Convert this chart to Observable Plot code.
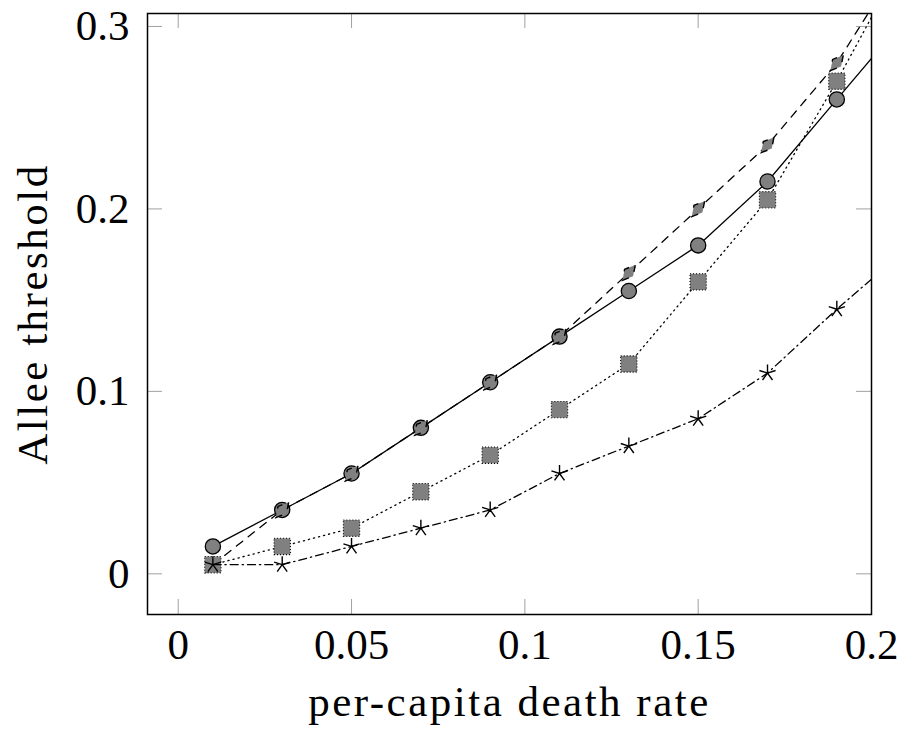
<!DOCTYPE html>
<html>
<head>
<meta charset="utf-8">
<script src="https://cdn.jsdelivr.net/npm/d3@7"></script>
<script src="https://cdn.jsdelivr.net/npm/@observablehq/plot@0.6"></script>
<style>
  html, body { margin: 0; padding: 0; background: #fff; }
  g.axis-title text { letter-spacing: 2.5px; }
</style>
</head>
<body>
<div id="chart"></div>
<script>
// ---- data ----
const deathRate = [0.01, 0.03, 0.05, 0.07, 0.09, 0.11, 0.13, 0.15, 0.17, 0.19, 0.21];
const solidCircles = [0.015, 0.035, 0.055, 0.08, 0.105, 0.13, 0.155, 0.18, 0.215, 0.26, 0.305];
const dashedDiamonds = [0.005, 0.035, 0.055, 0.08, 0.105, 0.13, 0.165, 0.2, 0.235, 0.28, 0.34];
const dottedSquares = [0.005, 0.015, 0.025, 0.045, 0.065, 0.09, 0.115, 0.16, 0.205, 0.27, 0.34];
const dashdotStars = [0.005, 0.005, 0.015, 0.025, 0.035, 0.055, 0.07, 0.085, 0.11, 0.145, 0.178];

const xTicks = [0, 0.05, 0.1, 0.15, 0.2];
const yTicks = [0, 0.1, 0.2, 0.3];
const xLabel = "per-capita death rate";
const yLabel = "Allee threshold";

// ---- layout ----
const W = 904, H = 729;
const mL = 147, mR = 33, mT = 13, mB = 115;
const plotW = W - mL - mR, plotH = H - mT - mB;
const TL = 15;
const FONT = "'Liberation Serif', 'Times New Roman', serif";

const toRows = (vals) => deathRate.map((x, i) => ({x, y: vals[i]}));
const circles = toRows(solidCircles);
const diamonds = toRows(dashedDiamonds);
const squares = toRows(dottedSquares);
const stars = toRows(dashdotStars);

// custom symbols
const star5 = {
  draw(ctx, size) {
    const r = Math.sqrt(size / Math.PI);
    for (let i = 0; i < 5; i++) {
      const a = -Math.PI / 2 + i * 2 * Math.PI / 5;
      ctx.moveTo(0, 0);
      ctx.lineTo(r * Math.cos(a), r * Math.sin(a));
    }
  }
};
const rhomb = {
  draw(ctx, size) {
    const r = Math.sqrt(size / Math.PI);
    ctx.moveTo(0, -r);
    ctx.lineTo(r * 0.55, 0);
    ctx.lineTo(0, r);
    ctx.lineTo(-r * 0.55, 0);
    ctx.closePath();
  }
};

const GRAY = "#808080";
const TICK = "#a0a0a0";

const chart = Plot.plot({
  width: W,
  height: H,
  marginLeft: mL, marginRight: mR, marginTop: mT, marginBottom: mB,
  style: {fontFamily: FONT, fontSize: "43px", background: "#fff", color: "#000"},
  x: {domain: [-0.00886, 0.2]},
  y: {domain: [-0.0223, 0.3071]},
  marks: [
    // inner ticks
    Plot.tickX(xTicks, {x: d => d, stroke: TICK, strokeWidth: 1, insetTop: plotH - TL}),
    Plot.tickX(xTicks, {x: d => d, stroke: TICK, strokeWidth: 1, insetBottom: plotH - TL}),
    Plot.tickY(yTicks, {y: d => d, stroke: TICK, strokeWidth: 1, insetRight: plotW - TL}),
    Plot.tickY(yTicks, {y: d => d, stroke: TICK, strokeWidth: 1, insetLeft: plotW - TL}),

    // solid / circles
    Plot.line(circles, {x: "x", y: "y", stroke: "black", strokeWidth: 1.3, clip: true}),
    Plot.dot(circles, {x: "x", y: "y", r: 7.6, fill: GRAY, stroke: "black", strokeWidth: 1.3, clip: true}),

    // dashed / diamonds
    Plot.line(diamonds, {x: "x", y: "y", stroke: "black", strokeWidth: 1.3, strokeDasharray: "8,7", clip: true}),
    Plot.dot(diamonds, {x: "x", y: "y", symbol: rhomb, r: 10, rotate: 40, fill: GRAY, stroke: "black", strokeWidth: 1.4, strokeDasharray: "7,9", clip: true}),

    // dotted / squares
    Plot.line(squares, {x: "x", y: "y", stroke: "black", strokeWidth: 1.3, strokeDasharray: "1.2,4", strokeLinecap: "round", clip: true}),
    Plot.dot(squares, {x: "x", y: "y", symbol: "square", r: 9.2, fill: GRAY, stroke: "black", strokeWidth: 1.1, strokeDasharray: "1,2", clip: true}),

    // dash-dot / stars
    Plot.line(stars, {x: "x", y: "y", stroke: "black", strokeWidth: 1.3, strokeDasharray: "8,4,1.3,4", clip: true}),
    Plot.dot(stars, {x: "x", y: "y", symbol: star5, r: 8.5, fill: "none", stroke: "black", strokeWidth: 1.4, clip: true}),

    // axes (labels only, ticks drawn inside above)
    Plot.axisX({ticks: xTicks, tickFormat: d => String(d), tickSize: 0, tickPadding: 14, label: null, fontSize: 43}),
    Plot.axisY({ticks: yTicks, tickFormat: d => String(d), tickSize: 0, tickPadding: 18, label: null, fontSize: 43}),

    // axis titles
    Plot.text([xLabel], {frameAnchor: "bottom", dy: 101, lineAnchor: "bottom", textAnchor: "middle", fontSize: 43, fill: "black", className: "axis-title"}),
    Plot.text([yLabel], {frameAnchor: "left", rotate: -90, dx: -101, lineAnchor: "bottom", textAnchor: "middle", fontSize: 43, fill: "black", className: "axis-title"}),

    Plot.frame({stroke: "black", strokeWidth: 1.5})
  ]
});

document.getElementById("chart").appendChild(chart);
</script>
</body>
</html>
